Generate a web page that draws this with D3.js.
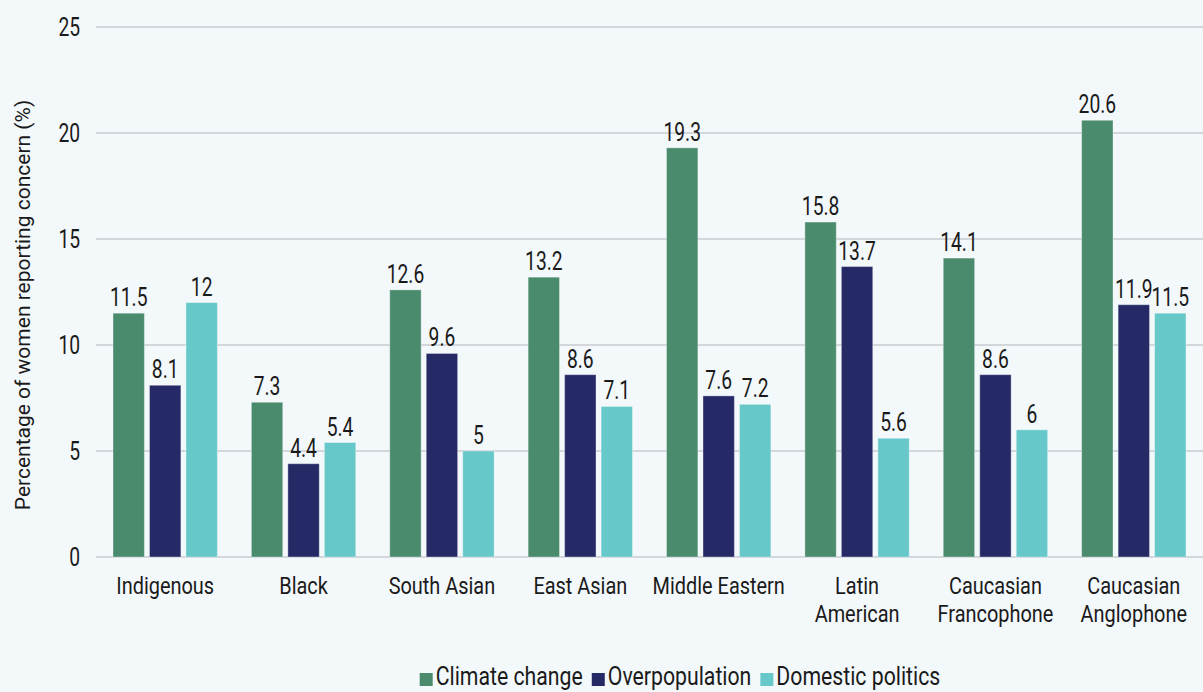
<!DOCTYPE html>
<html>
<head>
<meta charset="utf-8">
<script src="https://cdn.jsdelivr.net/npm/d3@7"></script>
<style>
  html, body { margin: 0; padding: 0; background: #f3f8fb; }
  svg { display: block; }
  text { font-family: "Roboto", "Liberation Sans", sans-serif; fill: #1a1a1a; }
</style>
</head>
<body>
<svg id="chart" width="1203" height="692"></svg>
<script>
// Ethnic groups (two-line labels split on "\n")
const categories = ["Indigenous", "Black", "South Asian", "East Asian", "Middle Eastern",
  "Latin\nAmerican", "Caucasian\nFrancophone", "Caucasian\nAnglophone"];
const seriesNames = ["Climate change", "Overpopulation", "Domestic politics"];
const climateChange = [11.5, 7.3, 12.6, 13.2, 19.3, 15.8, 14.1, 20.6];
const overpopulation = [8.1, 4.4, 9.6, 8.6, 7.6, 13.7, 8.6, 11.9];
const domesticPolitics = [12, 5.4, 5, 7.1, 7.2, 5.6, 6, 11.5];
const yTicks = [0, 5, 10, 15, 20, 25];
const colors = ["#4a8b6e", "#252a66", "#66c8c9"];

const series = [climateChange, overpopulation, domesticPolitics];

const svg = d3.select("#chart");
const margin = { left: 96, right: 0, top: 27, bottom: 135 };
const W = 1203, H = 692;
// horizontal squeeze for a condensed look (numbers / words)
const SQ_NUM = 0.77;
const SQ_TXT = 0.83;
const SQ_LEG = 0.85;
const FS = 25;

const x0 = d3.scaleBand().domain(categories).range([margin.left, W - margin.right]).paddingInner(0).paddingOuter(0);
const x1 = d3.scaleBand().domain(seriesNames).range([17, x0.bandwidth() - 17]).paddingInner(0.14);
const y = d3.scaleLinear().domain([0, 25]).range([H - margin.bottom, margin.top]);

// places a condensed text at (x, y); "\n" starts a new line
function label(parent, x, yy, str, size, sq, anchor, lineGap) {
  const t = parent.append("text")
    .attr("transform", `translate(${x},${yy}) scale(${sq},1)`)
    .attr("text-anchor", anchor || "middle")
    .attr("font-size", size);
  const lines = String(str).split("\n");
  if (lines.length === 1) return t.text(str);
  t.selectAll("tspan").data(lines).join("tspan")
    .attr("x", 0).attr("dy", (l, k) => k === 0 ? 0 : lineGap).text(l => l);
  return t;
}

// gridlines
svg.append("g").selectAll("line").data(yTicks).join("line")
  .attr("x1", margin.left).attr("x2", W)
  .attr("y1", d => y(d)).attr("y2", d => y(d))
  .attr("stroke", "#c9ccd1").attr("stroke-width", 1.5);

// y tick labels
const yAxisG = svg.append("g");
yTicks.forEach(t => label(yAxisG, 80, y(t) + 9, t, FS, SQ_NUM, "end"));

// y axis title
svg.append("text")
  .attr("transform", `translate(30, ${(y(0) + y(25)) / 2 + 13}) rotate(-90)`)
  .attr("text-anchor", "middle").attr("font-size", 21)
  .text("Percentage of  women reporting concern (%)");

// bars and value labels
const groups = svg.append("g").selectAll("g").data(categories).join("g")
  .attr("transform", d => `translate(${x0(d)},0)`);

groups.each(function (cat, i) {
  const g = d3.select(this);
  seriesNames.forEach((s, j) => {
    const v = series[j][i];
    g.append("rect")
      .attr("x", x1(s)).attr("width", x1.bandwidth())
      .attr("y", y(v)).attr("height", y(0) - y(v))
      .attr("fill", colors[j])
      .attr("stroke", "#ffffff").attr("stroke-opacity", 0.35).attr("stroke-width", 1);
    label(g, x1(s) + x1.bandwidth() / 2, y(v) - 7, v, FS, SQ_NUM);
  });
});

// category labels
groups.each(function (d) {
  label(d3.select(this), x0.bandwidth() / 2, 594, d, 24, SQ_TXT, "middle", 28.5);
});

// legend: swatch + label, laid out left to right and centred
const legend = svg.append("g");
let lx = 0;
seriesNames.forEach((s, i) => {
  legend.append("rect").attr("x", lx).attr("y", 673).attr("width", 13).attr("height", 13).attr("fill", colors[i]);
  const t = label(legend, lx + 16, 685, s, FS, SQ_LEG, "start");
  lx += 16 + t.node().getComputedTextLength() * SQ_LEG + 9;
});
const legendCenter = 680;
legend.attr("transform", `translate(${legendCenter - (lx - 9) / 2},0)`);
</script>
</body>
</html>
